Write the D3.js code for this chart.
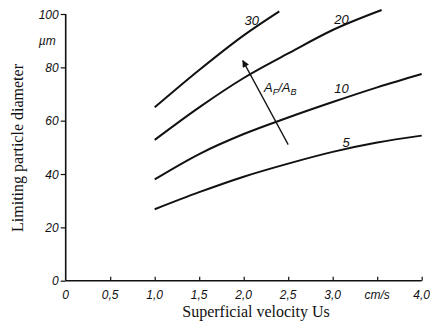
<!DOCTYPE html>
<html><head><meta charset="utf-8">
<script src="https://cdn.jsdelivr.net/npm/d3@7/dist/d3.min.js"></script>
<style>body{margin:0;background:#fff}svg{display:block}</style>
</head><body><svg id="c" width="430" height="325"></svg>
<script>
const xTickValues = [0, 0.5, 1.0, 1.5, 2.0, 2.5, 3.0, 3.5, 4.0];
const xTickLabels = ["0", "0,5", "1,0", "1,5", "2,0", "2,5", "3,0", "cm/s", "4,0"];
const yTickValues = [0, 20, 40, 60, 80, 100];
const yTickLabels = ["0", "20", "40", "60", "80", "100"];
const yUnit = "µm";
const seriesNames = ["5", "10", "20", "30"];
const s5  = [[1.0,26.8],[1.5,33.2],[2.0,39.0],[2.5,43.9],[3.0,48.3],[3.5,51.8],[4.0,54.4]];
const s10 = [[1.0,38.0],[1.5,47.5],[2.0,55.0],[2.5,61.2],[3.0,67.0],[3.5,72.5],[4.0,77.5]];
const s20 = [[1.0,52.8],[1.5,65.0],[2.0,76.0],[2.5,85.2],[3.0,94.0],[3.55,101.5]];
const s30 = [[1.0,65.0],[1.5,79.0],[2.0,92.0],[2.4,101.0]];
const labelPos = [[3.15,50.2],[3.1,70.2],[3.1,96.2],[2.09,95.9]];
const arrowFrom = [2.5, 51], arrowTo = [1.99, 82.5];

const svg = d3.select("#c");
const x = d3.scaleLinear().domain([0,4]).range([65.7,421.7]);
const y = d3.scaleLinear().domain([0,100]).range([280.7,14]);
const tickFont = "'Liberation Sans', Arial, sans-serif";

svg.append("line").attr("x1",x(0)).attr("x2",x(4)).attr("y1",y(0)).attr("y2",y(0))
  .attr("stroke","#111").attr("stroke-width",1.6);
svg.append("line").attr("x1",x(0)).attr("x2",x(0)).attr("y1",y(0)).attr("y2",y(100))
  .attr("stroke","#111").attr("stroke-width",1.6);

const xg = svg.append("g").attr("transform",`translate(0,${y(0)})`)
  .call(d3.axisTop(x).tickValues(xTickValues.slice(1)).tickSize(4).tickFormat(""));
xg.select(".domain").remove();
xg.selectAll("line").attr("stroke","#111").attr("stroke-width",1.2);
svg.selectAll(".xl").data(xTickValues).enter().append("text")
  .attr("x",d=>x(d)).attr("y",y(0)+18).attr("text-anchor","middle")
  .attr("font-family",tickFont).attr("font-style","italic").attr("font-size",12).attr("fill","#111")
  .text((d,i)=>xTickLabels[i]);

const yg = svg.append("g").attr("transform",`translate(${x(0)},0)`)
  .call(d3.axisLeft(y).tickValues(yTickValues).tickSize(5).tickFormat(""));
yg.select(".domain").remove();
yg.selectAll("line").attr("stroke","#111").attr("stroke-width",1.2);
svg.selectAll(".yl").data(yTickValues).enter().append("text")
  .attr("x",x(0)-7).attr("y",d=>y(d)+4.5).attr("text-anchor","end")
  .attr("font-family",tickFont).attr("font-style","italic").attr("font-size",12).attr("fill","#111")
  .text((d,i)=>yTickLabels[i]);
svg.append("text").attr("x",x(0)-10).attr("y",y(90)+4).attr("text-anchor","end")
  .attr("font-family",tickFont).attr("font-style","italic").attr("font-size",12).attr("fill","#111")
  .text(yUnit);

const line = d3.line().x(d=>x(d[0])).y(d=>y(d[1])).curve(d3.curveMonotoneX);
[s5,s10,s20,s30].forEach(s=>{
  svg.append("path").attr("d",line(s)).attr("fill","none").attr("stroke","#111").attr("stroke-width",2);
});
seriesNames.forEach((n,i)=>{
  svg.append("text").attr("x",x(labelPos[i][0])).attr("y",y(labelPos[i][1]))
    .attr("text-anchor","middle").attr("font-family",tickFont).attr("font-style","italic")
    .attr("font-size",13).attr("fill","#111").text(n);
});

svg.append("defs").append("marker").attr("id","ah").attr("viewBox","0 0 10 10")
  .attr("refX",9).attr("refY",5).attr("markerWidth",9).attr("markerHeight",7)
  .attr("markerUnits","userSpaceOnUse").attr("orient","auto")
  .append("path").attr("d","M0,0L10,5L0,10z").attr("fill","#111");
svg.append("line").attr("x1",x(arrowFrom[0])).attr("y1",y(arrowFrom[1]))
  .attr("x2",x(arrowTo[0])).attr("y2",y(arrowTo[1]))
  .attr("stroke","#111").attr("stroke-width",1.3).attr("marker-end","url(#ah)");

const t = svg.append("text").attr("x",264).attr("y",92)
  .attr("font-family",tickFont).attr("font-style","italic").attr("font-size",13).attr("fill","#111");
t.append("tspan").text("A");
t.append("tspan").attr("font-size",9).attr("dy",3).text("F");
t.append("tspan").attr("dy",-3).text("/A");
t.append("tspan").attr("font-size",9).attr("dy",3).text("B");

svg.append("text").attr("x",256).attr("y",317).attr("text-anchor","middle")
  .attr("font-family","'Liberation Serif', 'Times New Roman', serif").attr("font-size",16).attr("fill","#111")
  .text("Superficial velocity Us");
svg.append("text").attr("transform","translate(23,148) rotate(-90)").attr("text-anchor","middle")
  .attr("font-family","'Liberation Serif', 'Times New Roman', serif").attr("font-size",16).attr("fill","#111")
  .text("Limiting particle diameter");
</script></body></html>
